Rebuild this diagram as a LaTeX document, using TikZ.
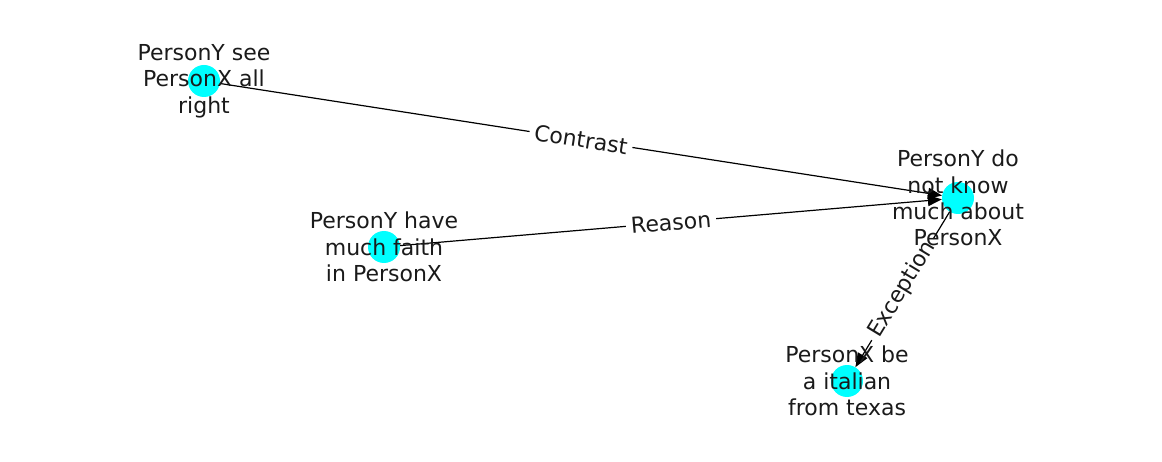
\documentclass[tikz,border=0pt]{standalone}
\usepackage{fontspec}
\setmainfont{DejaVu Sans}
\usetikzlibrary{arrows.meta}
\definecolor{nodecyan}{HTML}{00FFFF}
\definecolor{textgray}{HTML}{1A1A1A}

\begin{document}
\begin{tikzpicture}[x=1pt, y=-1pt,
		person/.style={circle, fill=nodecyan, minimum size=32pt, inner sep=0pt},
		persontext/.style={text=textgray, align=center, font=\fontsize{22}{26.4}\selectfont},
		relation/.style={draw=black, line width=1.2pt, -{Triangle[length=14pt, width=11pt]}, shorten >=0pt},
		relationlabel/.style={fill=white, text=textgray, inner sep=5pt, sloped, font=\fontsize{22}{26.4}\selectfont}]
			\useasboundingbox (0,0) rectangle (1162,462);
			\node[person] (see) at (204,81) {};
			\node[person] (faith) at (384,247) {};
			\node[person] (know) at (958,198) {};
			\node[person] (italian) at (847,381) {};
			\draw[relation] (see) -- node[relationlabel]{Contrast} (know);
			\draw[relation] (faith) -- node[relationlabel]{Reason} (know);
			\draw[relation] (know) -- node[relationlabel]{Exception} (italian);
			\node[persontext] (seetext) at (see) {PersonY see\\PersonX all\\right};
			\node[persontext] (faithtext) at (faith) {PersonY have\\much faith\\in PersonX};
			\node[persontext] (knowtext) at (know) {PersonY do\\not know\\much about\\PersonX};
			\node[persontext] (italiantext) at (italian) {PersonX be\\a italian\\from texas};
		\end{tikzpicture}
\end{document}
